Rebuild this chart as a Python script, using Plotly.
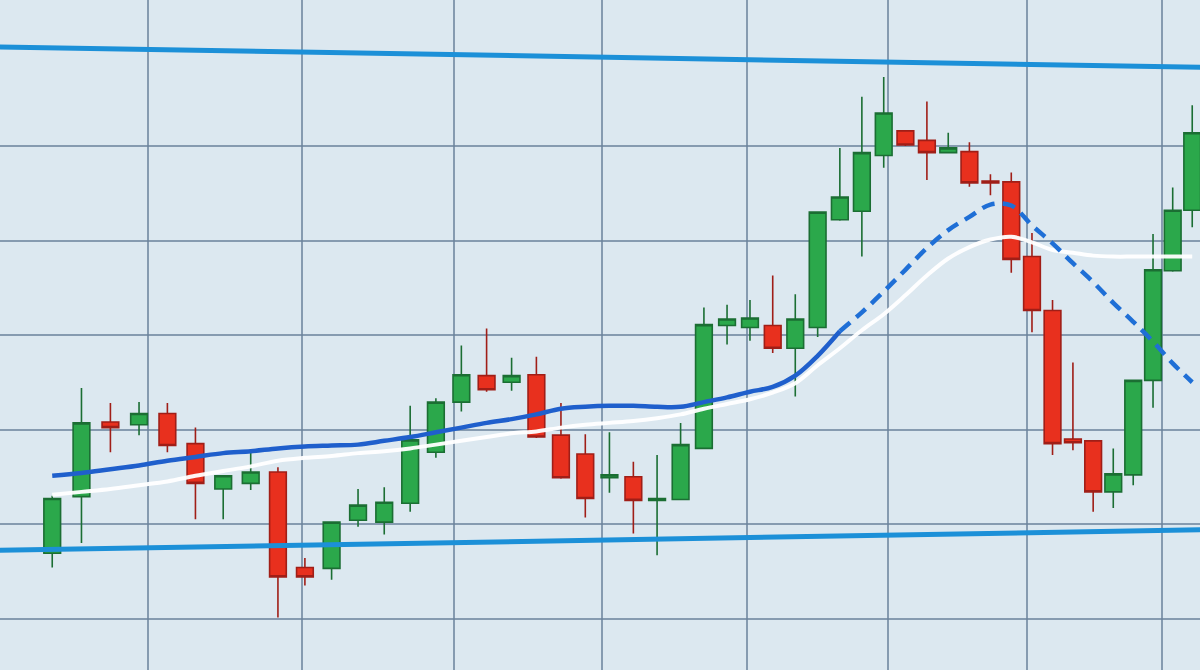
import plotly.graph_objects as go

# ---- data ----
session = list(range(94, 143))  # 49 consecutive sessions

open_ = [106.9, 112.9, 120.8, 120.5, 121.7, 118.5, 113.7, 114.3, 115.5, 105.4,
         105.3, 110.4, 110.2, 112.2, 117.6, 122.9, 125.7, 125.0, 125.8, 119.4,
         117.4, 114.9, 115.0, 112.5, 112.6, 118.0, 131.0, 130.8, 131.0, 128.6,
         130.8, 142.2, 143.1, 149.0, 151.6, 150.6, 149.3, 149.4, 146.3, 146.2,
         138.3, 132.6, 119.0, 118.8, 113.4, 115.2, 125.2, 136.8, 143.2]
high = [113.0, 124.4, 122.8, 122.9, 122.8, 120.2, 115.1, 117.8, 116.0, 106.4,
        110.2, 113.7, 113.9, 122.5, 123.3, 128.9, 130.7, 127.6, 127.7, 122.8,
        119.5, 119.7, 116.6, 117.3, 120.7, 132.9, 133.2, 133.7, 136.3, 134.3,
        143.1, 149.8, 155.2, 157.3, 151.7, 154.7, 151.4, 150.4, 147.0, 147.2,
        140.8, 133.7, 127.1, 118.9, 118.0, 125.3, 140.7, 145.6, 154.3]
low = [105.4, 108.0, 117.6, 119.4, 117.6, 110.5, 110.5, 113.6, 100.1, 103.5,
       104.1, 109.7, 108.9, 111.3, 117.0, 121.9, 124.0, 124.1, 119.1, 114.8,
       110.7, 113.3, 109.0, 106.7, 112.5, 117.9, 129.0, 129.4, 128.1, 123.5,
       129.8, 142.1, 138.3, 147.7, 150.0, 146.4, 149.2, 145.7, 144.8, 136.6,
       130.3, 117.3, 117.8, 111.3, 111.7, 114.1, 122.3, 136.7, 141.4]
close = [112.7, 120.7, 120.2, 121.7, 118.3, 114.3, 115.1, 115.5, 104.4, 104.4,
         110.2, 112.0, 112.3, 118.9, 122.9, 125.8, 124.2, 125.7, 119.2, 114.9,
         112.7, 115.2, 112.5, 112.7, 118.4, 131.1, 131.7, 131.8, 128.6, 131.7,
         143.0, 144.6, 149.3, 153.5, 150.1, 149.3, 149.8, 146.1, 146.1, 138.0,
         132.6, 118.5, 118.6, 113.4, 115.3, 125.2, 136.9, 143.2, 151.4]

# fast moving average (blue): solid for the first sessions, projected (dashed) after
ma_fast = [115.1, 115.4, 115.8, 116.2, 116.7, 117.1, 117.5, 117.7, 118.0, 118.2,
           118.3, 118.4, 118.8, 119.2, 119.7, 120.2, 120.7, 121.1, 121.6, 122.2,
           122.4, 122.5, 122.5, 122.4, 122.4, 122.9, 123.4, 124.0, 124.5, 125.7,
           127.8, 130.4, 132.4, 134.6, 136.9, 139.2, 141.1, 142.5, 143.8, 143.7,
           141.6, 139.7, 137.6, 135.6, 133.4, 131.4, 129.3, 127.0, 125.0]
solid_count = 32  # first 32 sessions drawn solid

# slow moving average (white)
ma_slow = [113.1, 113.4, 113.7, 114.1, 114.5, 115.1, 115.6, 116.1, 116.7, 117.0,
           117.2, 117.5, 117.7, 118.0, 118.4, 118.8, 119.2, 119.6, 119.8, 120.2,
           120.5, 120.7, 120.9, 121.2, 121.6, 122.2, 122.7, 123.2, 123.9, 124.9,
           126.8, 128.6, 130.5, 132.2, 134.2, 136.3, 138.1, 139.3, 140.1, 140.4,
           139.8, 139.0, 138.7, 138.4, 138.3, 138.3, 138.3, 138.3, 138.3]

# channel (resistance / support) lines
channel_x = [92, 143]
resistance = [160.5, 158.3]
support = [107.2, 109.4]

grid_columns = [42, 43, 44, 45, 46, 47, 48, 49]
price_ticks = [100, 110, 120, 130, 140, 150]

# ---- style ----
BG = "#dce8f0"
GRID = "rgba(105,130,155,0.75)"
GREEN_FILL = "#2ba84b"
GREEN_LINE = "#1b6e33"
RED_FILL = "#e8301e"
RED_LINE = "#a01e17"

fig = go.Figure()

# empty trace that attaches the column-grid axis
fig.add_trace(go.Scatter(x=grid_columns, y=[None] * len(grid_columns), xaxis="x2", yaxis="y",
                         mode="lines", showlegend=False, hoverinfo="skip"))

fig.add_trace(go.Candlestick(
    x=session, open=open_, high=high, low=low, close=close,
    increasing=dict(fillcolor=GREEN_FILL, line=dict(color=GREEN_LINE, width=1.6)),
    decreasing=dict(fillcolor=RED_FILL, line=dict(color=RED_LINE, width=1.6)),
    whiskerwidth=0, showlegend=False, hoverinfo="skip",
))

fig.add_trace(go.Scatter(x=channel_x, y=resistance, mode="lines",
                         line=dict(color="#1c90d8", width=5), showlegend=False, hoverinfo="skip"))
fig.add_trace(go.Scatter(x=channel_x, y=support, mode="lines",
                         line=dict(color="#1c90d8", width=5), showlegend=False, hoverinfo="skip"))

fig.add_trace(go.Scatter(x=session, y=ma_slow, mode="lines",
                         line=dict(color="rgba(255,255,255,0.95)", width=4, shape="spline"),
                         showlegend=False, hoverinfo="skip"))

fig.add_trace(go.Scatter(x=session[:solid_count], y=ma_fast[:solid_count], mode="lines",
                         line=dict(color="#1f5fcc", width=4.5, shape="spline"),
                         showlegend=False, hoverinfo="skip"))
fig.add_trace(go.Scatter(x=session[solid_count - 1:], y=ma_fast[solid_count - 1:], mode="lines",
                         line=dict(color="#1f6fd6", width=4.5, dash="13px,8px", shape="spline"),
                         showlegend=False, hoverinfo="skip"))

fig.update_layout(
    width=1200, height=670,
    margin=dict(l=0, r=0, t=0, b=0),
    paper_bgcolor=BG, plot_bgcolor=BG,
    boxgap=0.1, boxgroupgap=0.05,
    xaxis=dict(type="log", range=[1.96492, 2.15351], showgrid=False, zeroline=False,
               showticklabels=False, ticks="", rangeslider=dict(visible=False), fixedrange=True),
    xaxis2=dict(type="log", overlaying="x", range=[1.61352, 1.69267], tickvals=grid_columns,
                showgrid=True, gridcolor=GRID, gridwidth=2, zeroline=False,
                showticklabels=False, ticks="", fixedrange=True),
    yaxis=dict(range=[94.55, 165.45], tickvals=price_ticks, showgrid=True, gridcolor=GRID,
               gridwidth=2, zeroline=False, showticklabels=False, ticks="", fixedrange=True),
    hovermode=False,
)

fig.write_html("out.html", config={"displayModeBar": False},
               post_script="document.body.style.margin='0';document.body.style.overflow='hidden';")
